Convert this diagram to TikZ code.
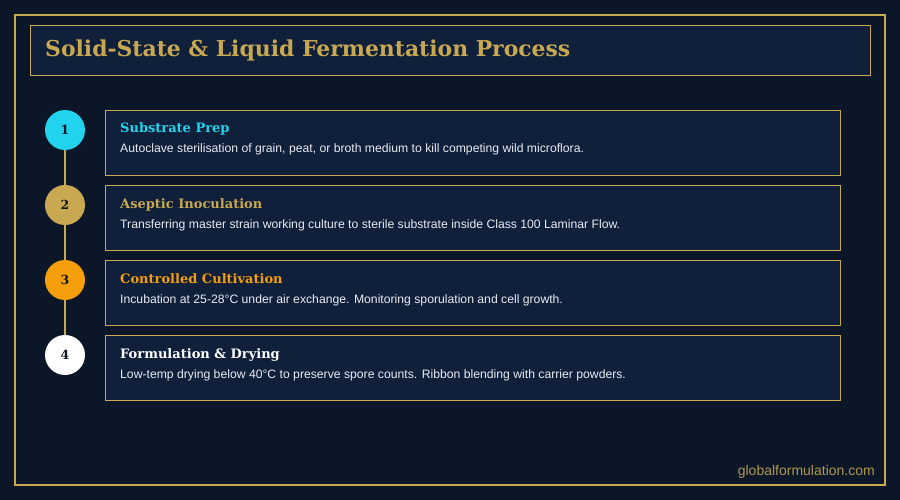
\documentclass[tikz,border=0pt]{standalone}
\usepackage{fontspec}
\setmainfont{DejaVu Serif}
\newfontfamily\bodysans{Liberation Sans}
\definecolor{bgc}{HTML}{0B1628}
\definecolor{boxc}{HTML}{10203B}
\definecolor{goldc}{HTML}{C8A951}
\definecolor{cyanc}{HTML}{22D3EE}
\definecolor{orangec}{HTML}{F59E0B}
\definecolor{txtc}{HTML}{E8EAF0}
\definecolor{numc}{HTML}{101828}
\tikzset{
  stepcard/.style={draw=goldc, line width=0.8pt, fill=boxc, minimum width=735pt, minimum height=65pt, anchor=north west, inner sep=0pt},
  stepdot/.style={circle, minimum size=40pt, inner sep=0pt, font=\bfseries\fontsize{12.5}{12.5}\selectfont, text=numc},
  steptitle/.style={anchor=base west, font=\bfseries\fontsize{13}{13}\selectfont},
  stepdesc/.style={anchor=base west, font=\bodysans\fontsize{12.2}{12.2}\selectfont, text=txtc},
  linkline/.style={draw=goldc, line width=1.6pt}
}
\begin{document}
\begin{tikzpicture}[x=1pt,y=-1pt]
\fill[bgc] (0,0) rectangle (900,500);
\useasboundingbox (0,0) rectangle (900,500);
\draw[goldc, line width=2pt] (15,15) rectangle (885,485);
\node[draw=goldc, line width=0.8pt, fill=boxc, minimum width=840pt, minimum height=50pt, anchor=north west, inner sep=0pt] (titlebox) at (30,25) {};
\node[anchor=base west, text=goldc, font=\bfseries\fontsize{21.9}{21.9}\selectfont, inner sep=0pt] (title) at (45,57) {Solid-State \& Liquid Fermentation Process};
% circles
\node[stepdot, fill=cyanc] (c1) at (65,130) {1};
\node[stepdot, fill=goldc] (c2) at (65,205) {2};
\node[stepdot, fill=orangec] (c3) at (65,280) {3};
\node[stepdot, fill=white] (c4) at (65,355) {4};
\draw[linkline] (c1) -- (c2);
\draw[linkline] (c2) -- (c3);
\draw[linkline] (c3) -- (c4);
% cards
\node[stepcard] (b1) at (105,110) {};
\node[stepcard] (b2) at (105,185) {};
\node[stepcard] (b3) at (105,260) {};
\node[stepcard] (b4) at (105,335) {};
\node[steptitle, text=cyanc, inner sep=0pt] (t1) at (120,133) {Substrate Prep};
\node[stepdesc, inner sep=0pt] (d1) at (120,153) {Autoclave sterilisation of grain, peat, or broth medium to kill competing wild microflora.};
\node[steptitle, text=goldc, inner sep=0pt] (t2) at (120,208) {Aseptic Inoculation};
\node[stepdesc, inner sep=0pt] (d2) at (120,228) {Transferring master strain working culture to sterile substrate inside Class 100 Laminar Flow.};
\node[steptitle, text=orangec, inner sep=0pt] (t3) at (120,283) {Controlled Cultivation};
\node[stepdesc, inner sep=0pt] (d3) at (120,303) {Incubation at 25-28°C under air exchange. Monitoring sporulation and cell growth.};
\node[steptitle, text=white, inner sep=0pt] (t4) at (120,358) {Formulation \& Drying};
\node[stepdesc, inner sep=0pt] (d4) at (120,378) {Low-temp drying below 40°C to preserve spore counts. Ribbon blending with carrier powders.};
\node[anchor=base east, inner sep=0pt, text=goldc!88!bgc, font=\bodysans\fontsize{14}{14}\selectfont] (foot) at (875,475) {globalformulation.com};
\end{tikzpicture}
\end{document}
